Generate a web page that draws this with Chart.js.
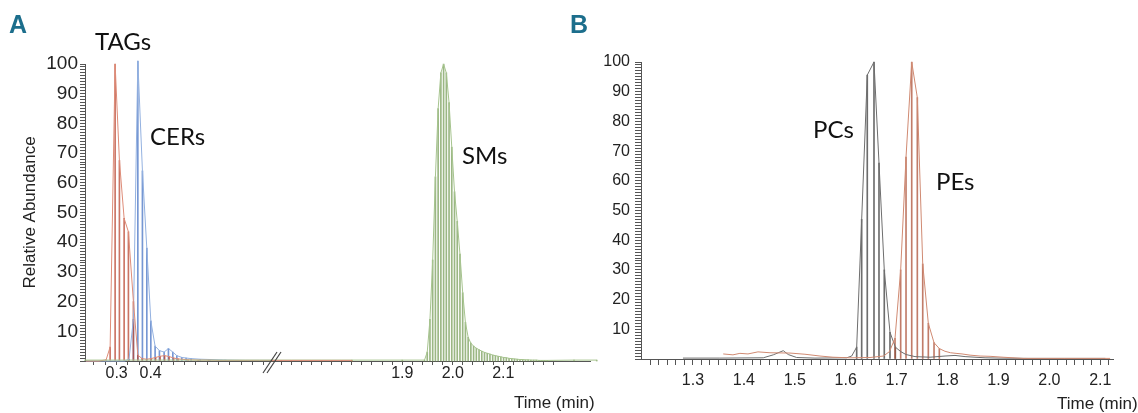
<!DOCTYPE html>
<html>
<head>
<meta charset="utf-8">
<title>Chromatogramas lipídicos</title>
<script src="https://cdn.jsdelivr.net/npm/chart.js@4.4.1/dist/chart.umd.min.js"></script>
<style>
  html,body{margin:0;padding:0;background:#fff}
  #wrap{position:relative;width:1138px;height:413px;overflow:hidden;font-family:'Liberation Sans',Arial,sans-serif}
  #wrap canvas{position:absolute;top:0}
  .panel{position:absolute;font-weight:bold;font-size:25px;line-height:25px;color:#1c6e8c}
  .lbl{position:absolute;font-family:Lato,'Open Sans',sans-serif;font-size:24px;line-height:24px;color:#111}
  .xt{position:absolute;font-size:17px;line-height:17px;color:#222}
</style>
</head>
<body>
<div id="wrap">
  <canvas id="cA1" width="272" height="413" style="left:0"></canvas>
  <canvas id="cA2" width="345" height="413" style="left:255px"></canvas>
  <canvas id="cB" width="540" height="413" style="left:598px"></canvas>

  <div class="panel" style="left:9px;top:12px">A</div>
  <div class="panel" style="left:570px;top:12px">B</div>

  <div class="lbl" style="left:95px;top:29px">TAGs</div>
  <div class="lbl" style="left:150px;top:124px">CERs</div>
  <div class="lbl" style="left:462px;top:143px">SMs</div>
  <div class="lbl" style="left:813px;top:117px">PCs</div>
  <div class="lbl" style="left:936px;top:169px">PEs</div>

  <div class="xt" style="left:514px;top:394px">Time (min)</div>
  <div class="xt" style="left:1057px;top:395px">Time (min)</div>
</div>

<script>

// Panel A, tramo izquierdo (antes del corte del eje)
const TAG_T = [0.21, 0.2485, 0.2691, 0.2809, 0.2956, 0.3082, 0.3221, 0.3347, 0.3494, 0.3624, 0.375, 0.3882, 0.4015, 0.4147, 0.4279, 0.4412, 0.4544, 0.4676, 0.4809, 0.51, 0.54, 0.57, 0.60, 0.63, 0.66, 0.69, 0.72, 0.757];
const TAG_Y = [0, 0, 0.4, 4.7, 100, 67.5, 48, 43.5, 20, 2, 0.8, 0.6, 0.8, 1.2, 1.6, 1.8, 1.5, 1.0, 0.7, 0.4, 0.3, 0.3, 0.2, 0.2, 0.2, 0.2, 0.2, 0.2];

const CER_T = [0.21, 0.3235, 0.3365, 0.3494, 0.3624, 0.3759, 0.3888, 0.4006, 0.4132, 0.4259, 0.4397, 0.4524, 0.4653, 0.4771, 0.4918, 0.5044, 0.5191, 0.5456, 0.575, 0.62, 0.68, 0.757];
const CER_Y = [0, 0, 0.6, 14, 101, 64, 38, 13.5, 5, 3.5, 3, 4.2, 3, 1.8, 1.2, 1.0, 0.8, 0.6, 0.5, 0.3, 0.2, 0.2];

const SM_BASE_T = [0.207, 0.757];
const SM_BASE_Y = [0.3, 0.3];

// Panel A, tramo derecho (después del corte)
const TAG_TAIL_T = [1.642, 1.66, 1.68, 1.70, 1.72, 1.74, 1.76, 1.78, 1.80];
const TAG_TAIL_Y = [0.2, 0.2, 0.2, 0.2, 0.2, 0.2, 0.2, 0.2, 0.2];

const SM_T = [1.642, 1.80, 1.90, 1.944,
  1.9494, 1.9548, 1.9602, 1.9656, 1.971, 1.9764, 1.9818, 1.9872, 1.9926, 1.998,
  2.0034, 2.0088, 2.0142, 2.0196, 2.025, 2.0304, 2.0358, 2.0412, 2.0466, 2.052,
  2.0574, 2.0628, 2.0682, 2.0736, 2.079, 2.0844, 2.0898, 2.0952, 2.1006, 2.106,
  2.1114, 2.1168, 2.1222, 2.1276, 2.133, 2.1384, 2.1438, 2.1492, 2.1546, 2.16,
  2.1654, 2.1708, 2.1762, 2.1816, 2.187, 2.24, 2.285];
const SM_Y = [0.3, 0.3, 0.3, 0.3,
  3, 14, 34, 62, 85, 97, 100, 97, 87, 72,
  57, 47, 36, 23, 13, 8, 6, 5, 4.3, 3.8,
  3.3, 2.9, 2.6, 2.3, 2.0, 1.8, 1.6, 1.4, 1.2, 1.1,
  0.9, 0.8, 0.7, 0.6, 0.5, 0.5, 0.4, 0.4, 0.3, 0.3,
  0.3, 0.2, 0.2, 0.2, 0.2, 0.3, 0.3];

// Panel B
const PC_T = [1.2804, 1.353, 1.4381, 1.4578, 1.4774, 1.4872, 1.5037, 1.5397, 1.602, 1.6118, 1.6216, 1.6314, 1.6424, 1.6556, 1.6654, 1.6758, 1.687, 1.6975, 1.708, 1.7185, 1.7361, 1.7656, 1.7951, 1.8147, 1.8344, 1.8737, 1.9031, 1.96, 2.03, 2.11];
const PC_Y = [0.3, 0.3, 0.4, 1.4, 2.8, 1.5, 0.5, 0.3, 0.4, 1.0, 4, 47, 95.6, 100, 66, 30, 9, 4, 2.5, 1.5, 0.8, 0.6, 1.0, 1.2, 0.8, 0.4, 0.3, 0.2, 0.2, 0.2];

const PE_T = [1.3595, 1.3786, 1.3923, 1.4081, 1.4277, 1.4513, 1.4906, 1.52, 1.5495, 1.575, 1.6084, 1.6477, 1.6743, 1.686, 1.6969, 1.708, 1.7185, 1.7297, 1.7407, 1.7513, 1.7623, 1.7735, 1.7839, 1.795, 1.8059, 1.8167, 1.8285, 1.8442, 1.8639, 1.8835, 1.909, 1.9483, 2.021, 2.1193];
const PE_Y = [1.7, 1.4, 1.9, 1.7, 2.4, 2.1, 2.0, 1.6, 1.0, 0.6, 0.4, 0.5, 1.0, 2.5, 7, 30, 68, 100, 88, 32, 12, 5.5, 3.5, 2.6, 2.1, 1.9, 1.7, 1.3, 1.0, 0.9, 0.6, 0.2, 0.2, 0.2];

// Etiquetas de los ejes
const Y_LABELS  = [10, 20, 30, 40, 50, 60, 70, 80, 90, 100];
const A1_LABELS = [0.3, 0.4];
const A2_LABELS = [1.9, 2.0, 2.1];
const B_LABELS  = [1.3, 1.4, 1.5, 1.6, 1.7, 1.8, 1.9, 2.0, 2.1];

const AXIS = '#555';
Chart.defaults.font.family = "'Liberation Sans', Arial, sans-serif";
Chart.defaults.color = '#222';

const pts = (ts, ys) => ts.map((t, i) => ({ x: t, y: ys[i] }));

// Una traza = línea fina + líneas verticales (barras de 1px) hasta la base
function trace(ts, ys, line, drop, minDrop = 0){
  const data = pts(ts, ys);
  return [
    { type:'line', data, borderColor:line, borderWidth:1, pointRadius:0, tension:0, clip:false, order:0 },
    { type:'bar', data:data.filter(p => p.y >= minDrop), backgroundColor:drop, barThickness:1, grouped:false, clip:false, order:1 }
  ];
}

function tickList(origin, step, min, max){
  const out = [];
  for(let k = -300; k <= 300; k++){
    const v = +(origin + k * step).toFixed(5);
    if(v >= min && v <= max) out.push({ value: v });
  }
  return out;
}

function xAxis(min, max, origin, step, tmin, tmax, labels, h, tickLen, pad){
  return {
    type:'linear', min, max, offset:false,
    afterBuildTicks: s => { s.ticks = tickList(origin, step, tmin, tmax); },
    afterFit: s => { s.height = h; },
    grid:{ drawOnChartArea:false, drawTicks:true, tickLength:tickLen, tickColor:AXIS, offset:false },
    border:{ color:AXIS, width:1 },
    ticks:{
      autoSkip:false, maxRotation:0, minRotation:0, padding:pad,
      font:{ size:16, lineHeight:1 }, color:'#222',
      callback: v => labels.some(l => Math.abs(l - v) < 1e-6) ? v.toFixed(1) : ''
    }
  };
}

function yAxis(show, width, size, tickLen, pad, title){
  return {
    display:show, min:0, max:100,
    afterBuildTicks: s => { s.ticks = Array.from({ length:101 }, (_, i) => ({ value:i })); },
    afterFit: s => { s.width = width; },
    grid:{ drawOnChartArea:false, tickLength:tickLen, tickColor:AXIS },
    border:{ color:AXIS, width:1 },
    ticks:{
      autoSkip:false, padding:pad, font:{ size, lineHeight:1 }, color:'#222',
      callback: v => Y_LABELS.includes(v) ? String(v) : ''
    },
    title: title
      ? { display:true, text:title, font:{ size:17 }, color:'#222', padding:{ top:20, bottom:0 } }
      : { display:false }
  };
}

// Símbolo "//" del eje cortado
const axisBreak = {
  id:'axisBreak',
  afterDraw(chart){
    const { ctx, chartArea:{ left, bottom } } = chart;
    ctx.save();
    ctx.strokeStyle = '#444';
    ctx.lineWidth = 1.2;
    [0, 4].forEach(dx => {
      ctx.beginPath();
      ctx.moveTo(left - 9 + dx, bottom + 12);
      ctx.lineTo(left + 5 + dx, bottom - 9);
      ctx.stroke();
    });
    ctx.restore();
  }
};

const base = (padding) => ({
  responsive:false, animation:false, events:[],
  layout:{ padding },
  plugins:{ legend:{ display:false }, tooltip:{ enabled:false } }
});

// Colores (línea, caída)
const C_TAG = ['#de8c78', 'rgba(185,70,48,0.75)'];
const C_CER = ['#93b1e0', 'rgba(72,116,196,0.75)'];
const C_SM  = ['#a6c48e', 'rgba(112,152,80,0.7)'];
const C_PC  = ['#6e6e6e', 'rgba(60,60,60,0.75)'];
const C_PE  = ['#d08a72', 'rgba(172,80,55,0.75)'];

// ── Panel A, tramo izquierdo ──
new Chart(document.getElementById('cA1'), {
  type:'bar',
  data:{ datasets:[
    ...trace(SM_BASE_T, SM_BASE_Y, ...C_SM),
    ...trace(TAG_T, TAG_Y, ...C_TAG),
    ...trace(CER_T, CER_Y, ...C_CER)
  ]},
  options:{
    ...base({ top:64, left:0, right:0, bottom:0 }),
    scales:{
      x: xAxis(0.207, 0.757, 0.3, 1/30, 0.207, 0.745, A1_LABELS, 52, 4, 1),
      y: yAxis(true, 85, 19, 5, 2, 'Relative Abundance')
    }
  }
});

// ── Panel A, tramo derecho ──
new Chart(document.getElementById('cA2'), {
  type:'bar',
  data:{ datasets:[
    ...trace(TAG_TAIL_T, TAG_TAIL_Y, ...C_TAG),
    ...trace(SM_T, SM_Y, ...C_SM)
  ]},
  options:{
    ...base({ top:64, left:17, right:10, bottom:0 }),
    scales:{
      x: xAxis(1.642, 2.2717, 1.9, 0.02, 1.655, 2.2001, A2_LABELS, 52, 4, 1),
      y: yAxis(false, 0, 18, 5, 2, null)
    }
  },
  plugins:[axisBreak]
});

// ── Panel B ──
new Chart(document.getElementById('cB'), {
  type:'bar',
  data:{ datasets:[
    ...trace(PE_T, PE_Y, ...C_PE, 3),
    ...trace(PC_T, PC_Y, ...C_PC, 3)
  ]},
  options:{
    ...base({ top:62, left:0, right:25, bottom:0 }),
    scales:{
      x: xAxis(1.198, 2.125, 1.3, 1/60, 1.21, 2.12, B_LABELS, 54, 6, 8),
      y: yAxis(true, 43, 16, 6, 5, null)
    }
  }
});
</script>
</body>
</html>
